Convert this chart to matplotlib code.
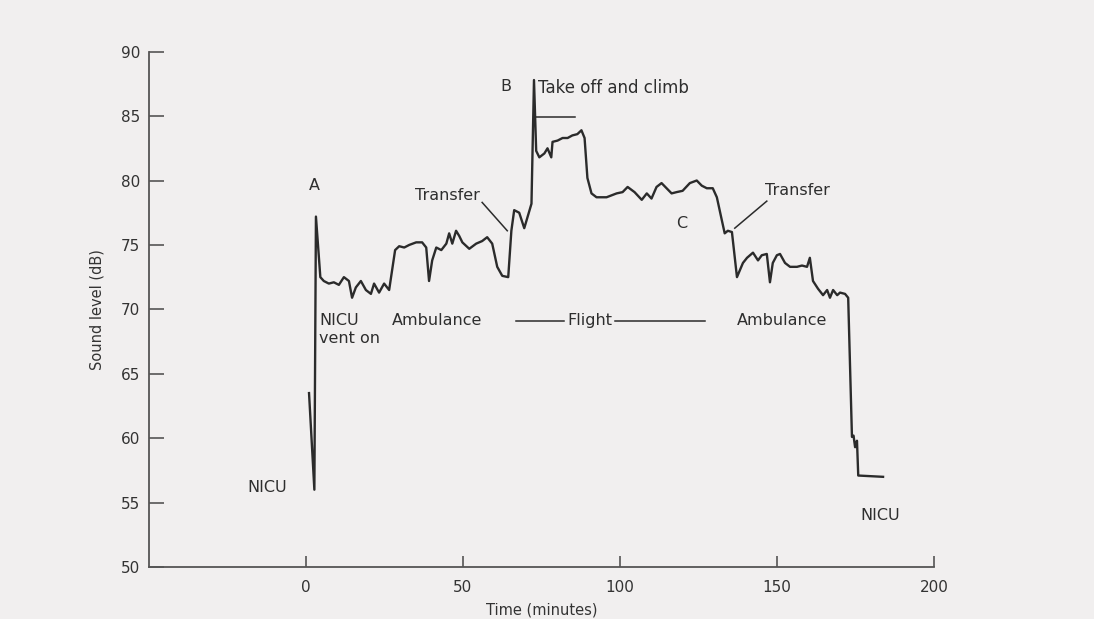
import numpy as np
import matplotlib
matplotlib.use("Agg")
import matplotlib.pyplot as plt

# sound level trace
time_min = [1.0, 2.7, 3.2, 4.6, 5.7, 7.3, 8.9, 10.5, 12.1, 13.7, 14.7, 15.9, 17.5, 19.1,
            20.7, 21.7, 23.3, 24.9, 26.5, 28.4, 29.7, 31.3, 32.9, 35.1, 37.0, 38.3,
            39.2, 40.2, 41.5, 43.1, 44.7, 45.6, 46.6, 47.8, 48.8, 49.8, 52.0, 54.2,
            56.1, 57.7, 59.3, 60.9, 62.5, 64.4, 65.4, 66.3, 67.9, 69.5, 71.8, 72.6,
            73.3, 74.3, 75.9, 76.9, 78.1, 78.5, 80.1, 81.7, 83.3, 84.8, 86.4, 87.7,
            88.7, 89.6, 90.9, 92.5, 95.7, 98.9, 100.8, 102.4, 104.6, 106.9, 108.5,
            110.0, 111.6, 113.2, 114.8, 116.4, 118.0, 119.9, 122.2, 124.4, 126.0,
            127.6, 129.5, 130.8, 132.4, 133.3, 134.3, 135.6, 137.2, 139.1, 140.4,
            142.3, 143.9, 145.1, 146.7, 147.7, 148.6, 149.9, 150.9, 152.5, 154.1,
            156.3, 157.9, 159.5, 160.4, 161.4, 163.0, 164.6, 165.9, 166.8, 167.8,
            169.1, 170.0, 171.6, 172.6, 173.8, 174.3, 174.8, 175.4, 175.8, 183.7]

sound_db = [63.5, 56.0, 77.2, 72.5, 72.2, 72.0, 72.1, 71.9, 72.5, 72.2, 70.9, 71.7, 72.2, 71.5,
            71.2, 72.0, 71.3, 72.0, 71.5, 74.6, 74.9, 74.8, 75.0, 75.2, 75.2, 74.8,
            72.2, 73.8, 74.8, 74.6, 75.1, 75.9, 75.1, 76.1, 75.7, 75.2, 74.7, 75.1,
            75.3, 75.6, 75.1, 73.3, 72.6, 72.5, 76.1, 77.7, 77.5, 76.3, 78.2, 87.8,
            82.3, 81.8, 82.1, 82.5, 81.8, 83.0, 83.1, 83.3, 83.3, 83.5, 83.6, 83.9,
            83.3, 80.2, 79.0, 78.7, 78.7, 79.0, 79.1, 79.5, 79.1, 78.5, 79.0,
            78.6, 79.5, 79.8, 79.4, 79.0, 79.1, 79.2, 79.8, 80.0, 79.6,
            79.4, 79.4, 78.7, 76.9, 75.9, 76.1, 76.0, 72.5, 73.6, 74.0,
            74.4, 73.8, 74.2, 74.3, 72.1, 73.6, 74.2, 74.3, 73.6, 73.3,
            73.3, 73.4, 73.3, 74.0, 72.2, 71.6, 71.1, 71.5, 70.9, 71.5,
            71.1, 71.3, 71.2, 70.9, 60.1, 60.2, 59.3, 59.8, 57.1, 57.0]

x_ticks = [0, 50, 100, 150, 200]
y_ticks = [50, 55, 60, 65, 70, 75, 80, 85, 90]

bg = "#f1efef"
ink = "#2b2b2b"

plt.rcParams["font.family"] = "DejaVu Sans"

fig = plt.figure(figsize=(10.94, 6.19), dpi=100, facecolor=bg)
ax = fig.add_axes([0.136, 0.084, 0.718, 0.8325])
ax.set_facecolor(bg)

ax.plot(time_min, sound_db, color=ink, linewidth=1.7)

ax.set_xlim(-50, 200)
ax.set_ylim(50, 90)
ax.set_xticks(x_ticks)
ax.set_yticks(y_ticks)

for s in ["top", "right"]:
    ax.spines[s].set_visible(False)
for s in ["left", "bottom"]:
    ax.spines[s].set_color("#555555")
    ax.spines[s].set_linewidth(1.3)

ax.tick_params(axis="y", direction="in", length=11, width=1.2, color="#555555",
               labelsize=11, labelcolor="#333333", pad=6)
ax.tick_params(axis="x", direction="in", length=8, width=1.2, color="#555555",
               labelsize=11, labelcolor="#333333", pad=9)

ax.set_xlabel("Time (minutes)", fontsize=10.5, color="#333333", labelpad=6)
ax.set_ylabel("Sound level (dB)", fontsize=10.5, color="#333333", labelpad=12)

# annotations
fs = 11.5
tc = "#2e2e2e"
ax.text(2.6, 79.6, "A", fontsize=fs, color=tc, ha="center", va="center")
ax.text(63.8, 87.3, "B", fontsize=fs, color=tc, ha="center", va="center")
ax.text(119.6, 76.7, "C", fontsize=fs, color=tc, ha="center", va="center")

ax.text(-12.4, 56.2, "NICU", fontsize=fs, color=tc, ha="center", va="center")
ax.text(182.8, 54.0, "NICU", fontsize=fs, color=tc, ha="center", va="center")
ax.text(4.2, 69.75, "NICU\nvent on", fontsize=fs, color=tc, ha="left", va="top",
        linespacing=1.3)
ax.text(41.8, 69.1, "Ambulance", fontsize=fs, color=tc, ha="center", va="center")
ax.text(151.5, 69.1, "Ambulance", fontsize=fs, color=tc, ha="center", va="center")
ax.text(90.3, 69.1, "Flight", fontsize=fs, color=tc, ha="center", va="center")
ax.plot([67.0, 82.3], [69.1, 69.1], color=ink, linewidth=1.1)
ax.plot([98.4, 127.0], [69.1, 69.1], color=ink, linewidth=1.1)

ax.text(74.0, 87.2, "Take off and climb", fontsize=12, color=tc, ha="left", va="center")
ax.plot([73.3, 85.5], [84.9, 84.9], color=ink, linewidth=1.1)

ax.text(45.0, 78.8, "Transfer", fontsize=fs, color=tc, ha="center", va="center")
ax.plot([56.1, 64.1], [78.3, 76.1], color=ink, linewidth=1.1)
ax.text(156.3, 79.2, "Transfer", fontsize=fs, color=tc, ha="center", va="center")
ax.plot([146.7, 136.5], [78.4, 76.3], color=ink, linewidth=1.1)

plt.savefig("out.png", dpi=100, facecolor=bg)
